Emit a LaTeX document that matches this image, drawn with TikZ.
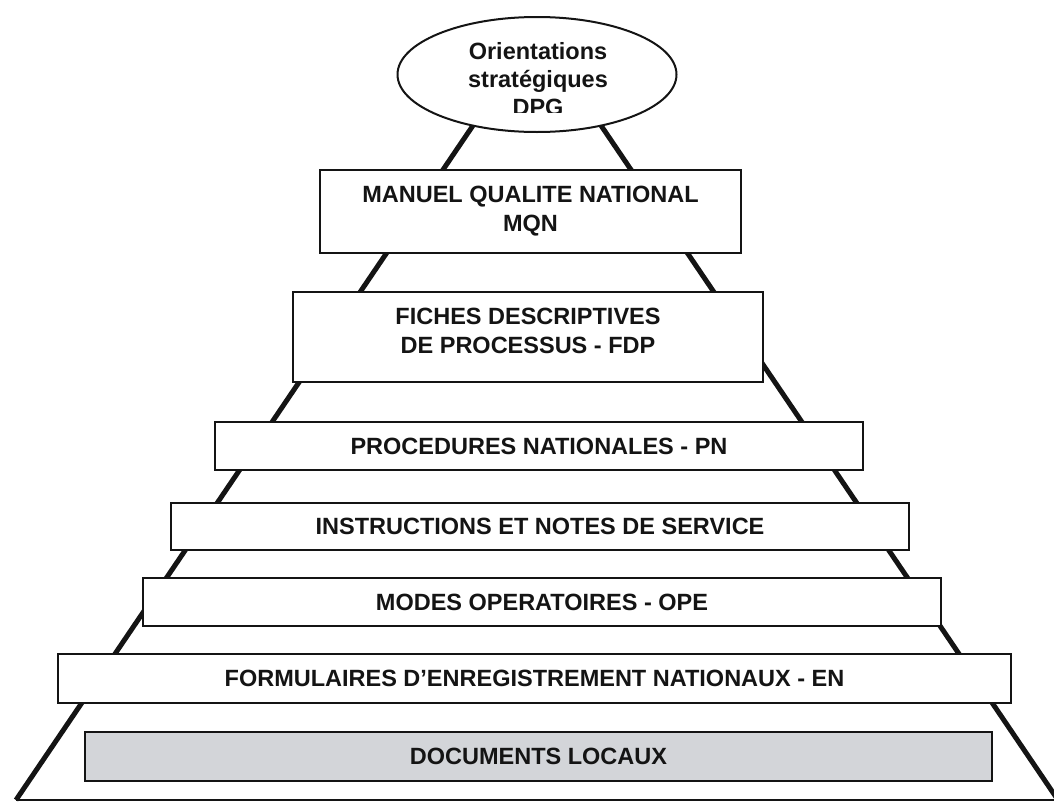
\documentclass[tikz,border=0pt]{standalone}
\usepackage{fontspec}
\setmainfont{Liberation Sans}
\usetikzlibrary{shapes.geometric}
\definecolor{docgray}{RGB}{211,213,217}
\definecolor{ink}{RGB}{20,20,20}
\begin{document}
\begin{tikzpicture}[x=1pt,y=-1pt,
  lvlbox/.style={draw=ink, line width=2.2pt, fill=white, inner sep=0pt},
  lvltext/.style={text=ink, font=\bfseries\fontsize{23.5}{29}\selectfont, align=center, inner sep=0pt},
  sideline/.style={draw=ink, line width=5pt},
  baseline/.style={draw=ink, line width=2.5pt},
  topoval/.style={ellipse, draw=ink, line width=2pt, fill=white, inner sep=0pt}
]
\useasboundingbox (0,0) rectangle (1054,803);
% pyramid outline
\coordinate (apex) at (537,31);
\coordinate (bl) at (16,800);
\coordinate (br) at (1058,800);
\draw[sideline] (bl) -- (apex) -- (br);
\draw[baseline] (bl) -- (br);
% levels
\node[lvlbox, minimum width=421pt, minimum height=83pt] (mqn) at (530.5,211.5) {};
\node[lvltext] (mqntxt) at (mqn.center) {MANUEL QUALITE NATIONAL\\MQN};
\node[lvlbox, minimum width=470pt, minimum height=90pt] (fdp) at (528,337) {};
\node[lvltext] (fdptxt) at (528,331) {FICHES DESCRIPTIVES\\DE PROCESSUS - FDP};
\node[lvlbox, minimum width=648pt, minimum height=48pt] (pn) at (539,446) {};
\node[lvltext] (pntxt) at (pn.center) {PROCEDURES NATIONALES - PN};
\node[lvlbox, minimum width=738pt, minimum height=47pt] (ins) at (540,526.5) {};
\node[lvltext] (instxt) at (ins.center) {INSTRUCTIONS ET NOTES DE SERVICE};
\node[lvlbox, minimum width=798pt, minimum height=48pt] (ope) at (542,602) {};
\node[lvltext] (opetxt) at (ope.center) {MODES OPERATOIRES - OPE};
\node[lvlbox, minimum width=953pt, minimum height=49pt] (en) at (534.5,678.5) {};
\node[lvltext] (entxt) at (en.center) {FORMULAIRES D’ENREGISTREMENT NATIONAUX - EN};
\node[lvlbox, fill=docgray, minimum width=907pt, minimum height=49pt] (loc) at (538.5,756.5) {};
\node[lvltext] (loctxt) at (loc.center) {DOCUMENTS LOCAUX};
% top ellipse
\node[topoval, minimum width=279pt, minimum height=115pt] (orient) at (537,74.5) {};
\begin{scope}
\clip (380,0) rectangle (700,112);
\node[lvltext, font=\bfseries\fontsize{23.5}{28}\selectfont] (orienttxt) at (538,79.5) {Orientations\\stratégiques\\DPG};
\end{scope}
\end{tikzpicture}
\end{document}
